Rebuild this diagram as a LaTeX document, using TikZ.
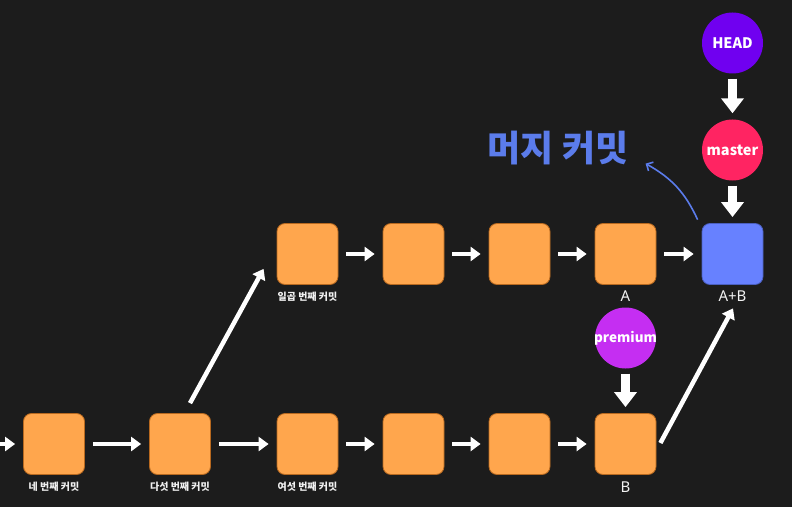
\documentclass[tikz,border=0pt]{standalone}
\usepackage{fontspec}
\newfontfamily\kr{Noto Sans CJK KR}
\newfontfamily\lat{Noto Sans}
\usetikzlibrary{arrows.meta,calc}
\definecolor{bg}{HTML}{1C1C1C}
\definecolor{cbox}{HTML}{FFA64D}
\definecolor{cboxedge}{HTML}{B8691F}
\definecolor{cblue}{HTML}{6781FF}
\definecolor{cblueedge}{HTML}{4A5FC0}
\definecolor{chead}{HTML}{7000F0}
\definecolor{cmaster}{HTML}{FF2462}
\definecolor{cprem}{HTML}{C52EF2}
\definecolor{ctitle}{HTML}{5B7CEB}
\definecolor{ctext}{HTML}{F2F2F2}
\begin{document}
\begin{tikzpicture}[x=1pt,y=1pt,
 commit/.style={rectangle,rounded corners=8pt,minimum size=61pt,inner sep=0pt,fill=cbox,draw=cboxedge,line width=0.8pt},
 ptr/.style={circle,minimum size=61pt,inner sep=0pt},
 ptrtext/.style={text=white,font=\kr\bfseries\fontsize{14.5}{15}\selectfont,inner sep=0pt},
 lbl/.style={text=ctext,font=\kr\bfseries\fontsize{10}{11}\selectfont,inner sep=0pt},
 ltr/.style={text=ctext,font=\lat\fontsize{15}{16}\selectfont,inner sep=0pt},
 link/.style={white,line width=4.5pt,-{Triangle[length=10pt,width=14pt]},shorten <=8pt,shorten >=8pt},
 fat/.style={white,line width=9pt,-{Triangle[length=15pt,width=22pt]},shorten <=5pt,shorten >=6pt},
 diag/.style={white,line width=4.5pt,-{Triangle[length=10pt,width=14pt]}},
 mergearrow/.style={ctitle,line width=1.6pt,-{Straight Barb[length=5pt,width=10pt]}},
]
\fill[bg] (0,0) rectangle (792,507);
\useasboundingbox (0,0) rectangle (792,507);

% top row
\node[commit] (t1) at (307.5,253) {};
\node[commit] (t2) at (413.5,253) {};
\node[commit] (t3) at (519.5,253) {};
\node[commit] (tA) at (625.5,253) {};
\node[commit,fill=cblue,draw=cblueedge] (tAB) at (732.5,253) {};

% bottom row
\node[commit] (b1) at (54,63) {};
\node[commit] (b2) at (180,63) {};
\node[commit] (b3) at (307.5,63) {};
\node[commit] (b4) at (413.5,63) {};
\node[commit] (b5) at (519.5,63) {};
\node[commit] (bB) at (625.5,63) {};

% pointers
\node[ptr,fill=chead,label={[ptrtext]center:HEAD}] (head) at (732.5,464) {};
\node[ptr,fill=cmaster,label={[ptrtext]center:master}] (master) at (732.5,357) {};
\node[ptr,fill=cprem,label={[ptrtext,font=\kr\bfseries\fontsize{13.5}{14}\selectfont]center:premium}] (prem) at (625.5,169) {};

% labels
\node[lbl] (l1) at (54,20) {네 번째 커밋};
\node[lbl] (l2) at (180,20) {다섯 번째 커밋};
\node[lbl] (l3) at (307.5,20) {여섯 번째 커밋};
\node[lbl] (l7) at (307.5,210) {일곱 번째 커밋};
\node[ltr] (lA) at (625.5,211) {A};
\node[ltr] (lAB) at (732.5,211) {A+B};
\node[ltr] (lB) at (625.5,20) {B};

% title
\node[text=ctitle,font=\kr\bfseries\fontsize{36}{38}\selectfont] (title) at (558,359) {머지 커밋};

% links
\coordinate (inL) at (-5,63);
\draw[link,shorten <=0pt] (inL) -- (b1);
\draw[link] (b1) -- (b2);
\draw[link] (b2) -- (b3);
\draw[link] (b3) -- (b4);
\draw[link] (b4) -- (b5);
\draw[link] (b5) -- (bB);
\draw[link] (t1) -- (t2);
\draw[link] (t2) -- (t3);
\draw[link] (t3) -- (tA);
\draw[link] (tA) -- (tAB);

\draw[diag] ($(b2.north)+(10,10)$) -- ($(t1.south west)+(-13,16)$);
\draw[diag] ($(bB.east)+(4,1)$) -- ($(tAB.south)+(0.5,-23.5)$);

\draw[fat] (head) -- (master);
\draw[fat] (master) -- (tAB);
\draw[fat] (prem) -- (bB);

\draw[mergearrow] ($(tAB.north west)+(-4,3.5)$) to[bend right=18] ($(tAB.north west)+(-56,59.5)$);
\end{tikzpicture}
\end{document}
